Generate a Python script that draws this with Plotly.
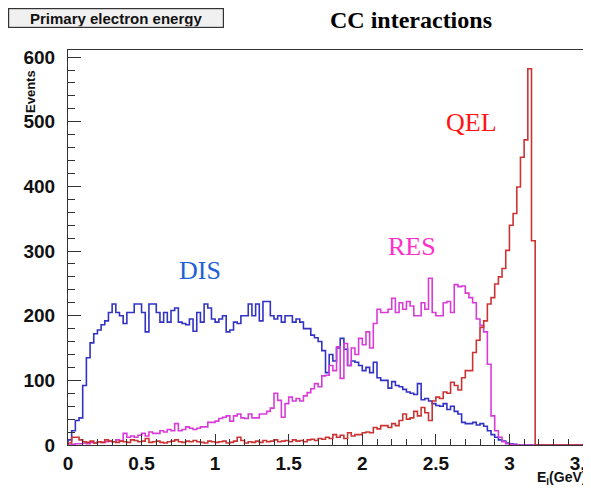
import numpy as np
import plotly.graph_objects as go

# Histogram settings: 140 bins of 0.025 GeV between 0 and 3.5 GeV
E_MIN, E_MAX, N_BINS = 0.0, 3.5, 140

dis_counts = [
    8, 22, 38, 42, 92, 135, 158, 172, 178, 186, 192, 205, 218,
    205, 200, 188, 205, 205, 218, 218, 205, 175, 218, 218,
    205, 190, 205, 190, 208, 212, 190, 188, 186, 195, 176, 205, 190, 218, 212, 195,
    190, 195, 200, 175, 178, 190, 188, 200,
    200, 218, 200, 218, 192, 222, 222, 200, 195, 200, 190, 200, 200, 190, 195, 190,
    180, 180, 170, 166, 160, 146, 112, 140, 130, 150,
    165, 148, 123, 130, 128, 123, 115, 120, 112, 128, 104, 100, 100, 88, 98, 92,
    90, 86, 82, 80, 78, 95, 70, 72,
    68, 64, 61, 60, 64, 55, 60, 52, 48, 35, 33, 33, 35, 31, 33, 29, 22, 16, 12, 8,
    6, 3, 2, 1, 0,
]
res_counts = [
    0, 1, 2, 2, 3, 2, 4, 3, 5, 4, 5, 6, 5, 8, 6, 18,
    12, 14, 12, 15, 18, 14, 20, 18,
    18, 22, 20, 24, 22, 33, 22, 24, 28, 26, 24, 26, 28, 28, 35, 35, 37, 41, 43, 45,
    37, 45, 48, 42,
    41, 48, 42, 42, 48, 48, 52, 57, 80, 69, 43, 64, 74, 68, 72, 68, 76, 81, 87, 95,
    90, 107, 108, 123, 115, 152,
    103, 157, 123, 150, 140, 165, 155, 175, 150, 188, 210, 205, 205, 210, 227, 205,
    220, 210, 222, 215, 200, 200, 220, 210,
    258, 205, 200, 200, 220, 222, 205, 248, 245, 246, 235, 228, 220, 195, 185, 175,
    125, 45, 22, 12, 5, 2, 1,
]
qel_counts = [
    3, 12, 12, 8, 5, 4, 6, 3, 5, 4, 8, 6, 5, 4, 6, 5, 4, 8, 7, 5, 6, 10, 4, 5,
    6, 4, 3, 5, 6, 8, 5, 4, 6, 5, 7, 5, 4, 3, 6, 5, 4, 5, 6, 3, 4, 6, 12, 7,
    3, 5, 4, 6, 4, 7, 5, 6, 8, 5, 6, 7, 5, 8, 6, 7, 5, 8, 9, 7, 10, 9, 12, 10, 16,
    12, 15, 10, 19, 14, 16, 16, 19, 20, 19, 27, 25, 30, 30, 27, 33, 30, 38, 48, 40,
    42, 52, 45, 58, 50,
    38, 68, 74, 72, 82, 80, 97, 92, 85, 104, 115, 115, 143, 162, 182, 192, 218, 228,
    249, 260, 273, 301, 340, 358, 399, 445, 472, 582, 316,
]

series_names = ["DIS", "RES", "QEL"]
x_tick_vals = [0, 0.5, 1, 1.5, 2, 2.5, 3, 3.5]
x_tick_text = ["0", "0.5", "1", "1.5", "2", "2.5", "3", "3.5"]
y_tick_vals = [0, 100, 200, 300, 400, 500, 600]

edges = np.linspace(E_MIN, E_MAX, N_BINS + 1)


def pad(c):
    c = list(c) + [0] * (N_BINS - len(c))
    return np.array(c[:N_BINS], dtype=float)


def step_xy(counts):
    v = pad(counts)
    xs = np.concatenate([[edges[0]], edges])
    ys = np.concatenate([[0.0], v, [v[-1]]])
    return xs, ys


line_colors = {"DIS": "#3232c4", "RES": "#d83cd8", "QEL": "#cc3434"}
text_colors = {"DIS": "#2160d4", "RES": "#ff30c8", "QEL": "#ff1414"}
data = {"DIS": dis_counts, "RES": res_counts, "QEL": qel_counts}

W, H = 591, 489
ML, MR, MT, MB = 60, 16, 42, 52
PW, PH = W - ML - MR, H - MT - MB


def px_x(fx):
    return (fx - ML) / PW


def px_y(fy):
    return 1 - (fy - MT) / PH


fig = go.Figure()
for name in series_names:
    xs, ys = step_xy(data[name])
    fig.add_trace(go.Scatter(
        x=xs, y=ys, mode="lines", name=name,
        line=dict(color=line_colors[name], width=1.6, shape="hv"),
        showlegend=False, hoverinfo="skip",
    ))

# Series labels
label_pos = {"DIS": (0.90, 270), "RES": (2.335, 307), "QEL": (2.74, 499)}
for name in series_names:
    lx, ly = label_pos[name]
    fig.add_annotation(
        x=lx, y=ly, xref="x", yref="y", text=name, showarrow=False,
        font=dict(family="Liberation Serif", size=26, color=text_colors[name]),
    )

# Title box
fig.add_annotation(
    x=px_x(0), y=px_y(0), xref="paper", yref="paper", xanchor="left", yanchor="top",
    text="<b>Primary electron energy</b>", showarrow=False,
    font=dict(family="Liberation Sans", size=15, color="#111"),
    bgcolor="#f0f0f0", bordercolor="#333", borderwidth=1.2,
    width=212, height=16,
)
# Main title
fig.add_annotation(
    x=px_x(403), y=px_y(12), xref="paper", yref="paper", xanchor="center", yanchor="middle",
    text="<b>CC interactions</b>", showarrow=False,
    font=dict(family="Liberation Sans" if False else "Liberation Serif", size=24, color="#000"),
)

# Axis titles
fig.add_annotation(
    x=px_x(22), y=px_y(84), xref="paper", yref="paper", xanchor="center", yanchor="middle",
    text="<b>Events</b>", textangle=-90, showarrow=False,
    font=dict(family="Liberation Sans", size=13, color="#111"),
)
fig.add_annotation(
    x=px_x(580), y=px_y(470), xref="paper", yref="paper", xanchor="right", yanchor="middle",
    text="<b>E<sub>l</sub>(GeV)</b>", showarrow=False,
    font=dict(family="Liberation Sans", size=14, color="#111"),
)

axis_common = dict(
    showline=True, linecolor="#333", linewidth=1, mirror=True,
    ticks="inside", tickcolor="#333", tickwidth=1,
    showgrid=False, zeroline=False, ticklabeloverflow="allow",
    tickfont=dict(family="Liberation Sans", size=19, color="#111", weight="bold"),
)

fig.update_xaxes(
    range=[E_MIN, E_MAX], tickvals=x_tick_vals, ticktext=x_tick_text, ticklen=11,
    ticklabelstandoff=1,
    minor=dict(dtick=0.1, ticks="inside", ticklen=6, tickcolor="#333", showgrid=False),
    **axis_common,
)
fig.update_yaxes(
    range=[0, 611], tickvals=y_tick_vals, ticklen=13, ticklabelstandoff=8,
    minor=dict(dtick=20, ticks="inside", ticklen=7, tickcolor="#333", showgrid=False),
    **axis_common,
)

fig.update_layout(
    width=W, height=H,
    margin=dict(l=ML, r=MR, t=MT, b=MB, autoexpand=False),
    paper_bgcolor="white", plot_bgcolor="white",
)

fig.write_html("out.html")
